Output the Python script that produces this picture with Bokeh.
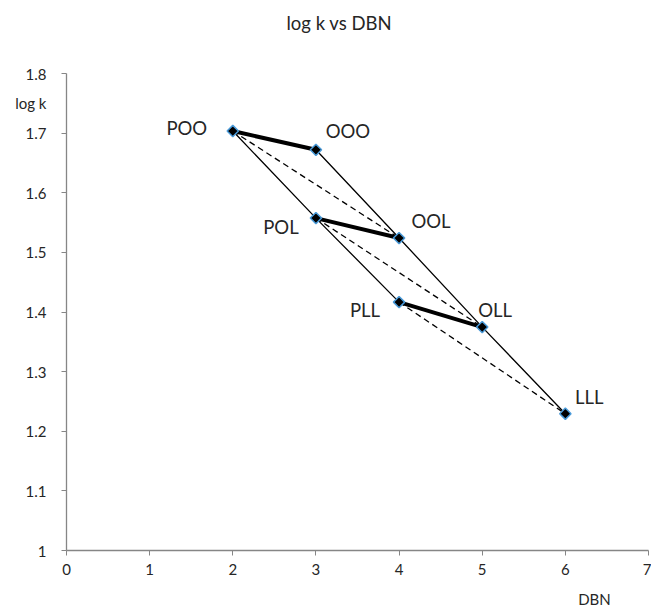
from bokeh.plotting import figure
from bokeh.models import ColumnDataSource, LabelSet, FixedTicker, LinearAxis, Title
from bokeh.core.properties import value
from bokeh.embed import file_html
from bokeh.resources import INLINE
import math

# ---- data ----
names = ["POO", "OOO", "POL", "OOL", "PLL", "OLL", "LLL"]
dbn = [2, 3, 3, 4, 4, 5, 6]
logk = [1.7035, 1.672, 1.5575, 1.524, 1.4166, 1.3747, 1.2294]

thick_pairs = [["POO", "OOO"], ["POL", "OOL"], ["PLL", "OLL"]]
thin_paths = [["POO", "POL", "PLL"], ["OOO", "OOL", "OLL", "LLL"]]
dash_pairs = [["POO", "OOL"], ["POL", "OLL"], ["PLL", "LLL"]]

x_ticks = [0, 1, 2, 3, 4, 5, 6, 7]
y_ticks = [1.0, 1.1, 1.2, 1.3, 1.4, 1.5, 1.6, 1.7, 1.8]
y_tick_labels = ["1", "1.1", "1.2", "1.3", "1.4", "1.5", "1.6", "1.7", "1.8"]

title_text = "log k vs DBN"
x_title = "DBN"
y_title = "log k"

# title positions (data coordinates of axis-title anchors)
y_title_at = 1.75
x_title_at = 6.35

# label placement (screen px offsets, y up)
lab_dx = {"POO": -46, "OOO": 32, "POL": -35, "OOL": 32, "PLL": -34, "OLL": 13, "LLL": 24}
lab_dy = {"POO": -4, "OOO": 12, "POL": -15.5, "OOL": 10.5, "PLL": -15, "OLL": 10, "LLL": 10}

FONT = "Lato"
TXT = "#262626"
AXC = "#868686"

pos = {n: (x, y) for n, x, y in zip(names, dbn, logk)}

p = figure(width=651, height=611, x_range=(0, 7), y_range=(1.0, 1.8),
           title=None, output_backend="svg", toolbar_location=None,
           min_border_left=66, min_border_right=3, min_border_top=73,
           min_border_bottom=61)
p.outline_line_color = None
p.xgrid.visible = False
p.ygrid.visible = False
p.background_fill_color = "white"
p.border_fill_color = "white"

# spacer between frame and title, then the title itself
p.add_layout(Title(text=" ", text_font_size="2px", standoff=31), "above")
p.add_layout(Title(text=title_text, align="left", offset=220, standoff=10,
                   text_font=FONT, text_font_size="18.5px",
                   text_font_style="normal", text_color=TXT), "above")

for ax in (p.xaxis, p.yaxis):
    ax.axis_line_color = AXC
    ax.axis_line_width = 1.3
    ax.major_tick_line_color = AXC
    ax.major_tick_line_width = 1
    ax.major_tick_out = 5
    ax.major_tick_in = 0
    ax.minor_tick_line_color = None
    ax.major_label_text_font = FONT
    ax.major_label_text_font_size = "15px"
    ax.major_label_text_color = TXT

p.xaxis.ticker = FixedTicker(ticks=x_ticks)
p.xaxis.major_label_standoff = 8

# y axis: tick marks drawn as "minor" ticks so the axis title can sit among labels
p.yaxis.ticker = FixedTicker(ticks=y_ticks + [y_title_at], minor_ticks=y_ticks)
overrides = {t: s for t, s in zip(y_ticks, y_tick_labels)}
overrides[y_title_at] = y_title
p.yaxis.major_label_overrides = overrides
p.yaxis.major_tick_line_color = None
p.yaxis.minor_tick_line_color = AXC
p.yaxis.minor_tick_line_width = 1
p.yaxis.minor_tick_out = 5
p.yaxis.minor_tick_in = 0
p.yaxis.major_label_standoff = 15

# x axis title as a second, line-less axis below
xt = LinearAxis(ticker=FixedTicker(ticks=[x_title_at]),
                major_label_overrides={x_title_at: x_title},
                axis_line_color=None, major_tick_line_color=None,
                minor_tick_line_color=None, major_tick_out=0, major_tick_in=0,
                major_label_standoff=12, major_label_text_font=FONT,
                major_label_text_font_size="15px", major_label_text_color=TXT)
p.add_layout(xt, "below")

# thin solid
for path in thin_paths:
    p.line([pos[n][0] for n in path], [pos[n][1] for n in path],
           line_color="black", line_width=1.3)
# dashed
for a, b in dash_pairs:
    p.line([pos[a][0], pos[b][0]], [pos[a][1], pos[b][1]],
           line_color="black", line_width=1.3, line_dash="6 4")
# thick
for a, b in thick_pairs:
    p.line([pos[a][0], pos[b][0]], [pos[a][1], pos[b][1]],
           line_color="black", line_width=4)

src = ColumnDataSource(dict(x=dbn, y=logk, name=names,
                            dx=[lab_dx[n] for n in names],
                            dy=[lab_dy[n] for n in names]))
p.scatter("x", "y", source=src, marker="square", angle=math.pi / 4, size=8,
          fill_color="black", line_color="#4A9BDA", line_width=1.5)

p.add_layout(LabelSet(x="x", y="y", text="name", source=src,
                      x_offset="dx", y_offset="dy",
                      text_align="center", text_baseline="alphabetic",
                      text_font=value(FONT), text_font_size="18.5px",
                      text_color=TXT))

open("out.html", "w").write(file_html(p, INLINE))
